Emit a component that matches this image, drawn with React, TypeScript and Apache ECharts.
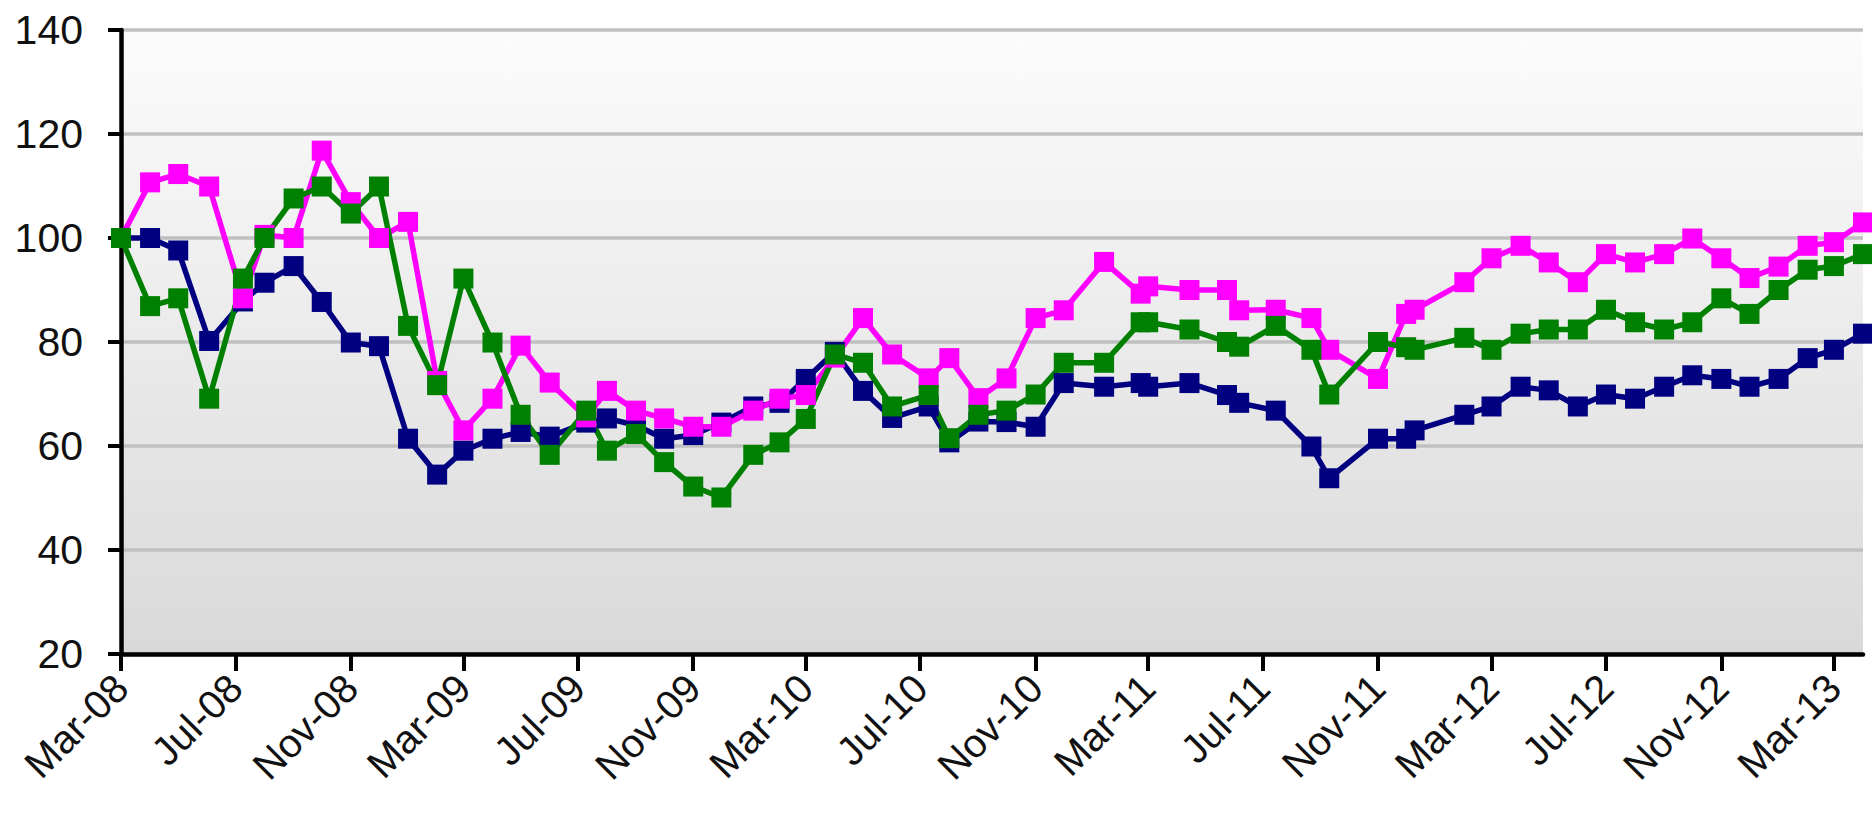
import React, { useEffect, useRef } from "react";
import * as echarts from "echarts";

const dates: string[] = [
  "2008-03-01", "2008-04-01", "2008-05-01", "2008-06-03", "2008-07-09", "2008-08-01",
  "2008-09-01", "2008-10-01", "2008-11-01", "2008-12-01", "2009-01-01", "2009-02-01",
  "2009-03-01", "2009-04-01", "2009-05-01", "2009-06-01", "2009-07-10", "2009-08-01",
  "2009-09-01", "2009-10-01", "2009-11-01", "2009-12-01", "2010-01-04", "2010-02-01",
  "2010-03-01", "2010-04-01", "2010-05-01", "2010-06-01", "2010-07-10", "2010-08-01",
  "2010-09-01", "2010-10-01", "2010-11-01", "2010-12-01", "2011-01-13", "2011-02-21",
  "2011-03-01", "2011-04-14", "2011-05-24", "2011-06-06", "2011-07-15", "2011-08-22",
  "2011-09-10", "2011-11-01", "2011-12-01", "2011-12-10", "2012-02-01", "2012-03-01",
  "2012-04-01", "2012-05-01", "2012-06-01", "2012-07-01", "2012-08-01", "2012-09-01",
  "2012-10-01", "2012-11-01", "2012-12-01", "2013-01-01", "2013-02-01", "2013-03-01",
  "2013-04-01",
];

const navySeries: number[] = [
  100, 100, 97.6, 80.2, 87.8, 91.4, 94.6, 87.7, 79.9, 79.2, 61.4, 54.5,
  59.1, 61.4, 62.7, 61.8, 64.5, 65.3, 64.0, 61.4, 62.1, 64.5, 67.6, 68.3,
  72.9, 78.1, 70.6, 65.4, 67.6, 60.7, 64.7, 64.6, 63.7, 72.1, 71.4, 72.1,
  71.4, 72.1, 69.8, 68.3, 66.8, 59.9, 53.8, 61.4, 61.4, 63.0, 66.0, 67.6,
  71.4, 70.7, 67.6, 69.9, 69.1, 71.4, 73.6, 72.9, 71.4, 72.9, 76.9, 78.5,
  81.6,
];

const magentaSeries: number[] = [
  100, 110.7, 112.3, 109.9, 88.4, 100.6, 100, 116.8, 106.9, 100, 103.1, 72.5,
  63.0, 69.1, 79.3, 72.2, 65.5, 70.6, 66.8, 65.3, 63.7, 63.7, 66.8, 69.1,
  69.8, 77.0, 84.6, 77.6, 73.0, 76.9, 69.2, 73.0, 84.6, 86.1, 95.4, 89.3,
  90.7, 90.0, 90.0, 86.1, 86.2, 84.6, 78.5, 72.9, 85.4, 86.2, 91.5, 96.1,
  98.5, 95.3, 91.5, 96.9, 95.3, 96.9, 99.9, 96.1, 92.3, 94.5, 98.5, 99.2,
  103.0,
];

const greenSeries: number[] = [
  100, 86.9, 88.4, 69.1, 92.2, 100, 107.6, 109.9, 104.7, 109.9, 83.1, 71.7,
  92.2, 79.9, 66.0, 58.3, 66.8, 59.1, 62.3, 56.9, 52.2, 50.1, 58.3, 60.7,
  65.2, 77.6, 76.0, 67.6, 69.8, 61.5, 66.0, 66.8, 69.9, 76.0, 76.0, 83.8,
  83.8, 82.4, 80.0, 79.1, 83.1, 78.5, 69.9, 80.0, 79.0, 78.5, 80.8, 78.5,
  81.6, 82.4, 82.4, 86.2, 83.8, 82.4, 83.8, 88.4, 85.4, 90.0, 93.9, 94.6,
  96.9,
];

const tickDates: string[] = [
  "2008-03-01", "2008-07-01", "2008-11-01", "2009-03-01", "2009-07-01", "2009-11-01",
  "2010-03-01", "2010-07-01", "2010-11-01", "2011-03-01", "2011-07-01", "2011-11-01",
  "2012-03-01", "2012-07-01", "2012-11-01", "2013-03-01",
];

const monthNames = ["Jan", "Feb", "Mar", "Apr", "May", "Jun", "Jul", "Aug", "Sep", "Oct", "Nov", "Dec"];

const DAY = 86400000;
// x values are days since the first date
const dayOf = (s: string) => {
  const [y, m, d] = s.split("-").map(Number);
  return Math.round((Date.UTC(y, m - 1, d) - Date.UTC(2008, 2, 1)) / DAY);
};

const FONT = "'Liberation Sans', Arial, sans-serif";

export default function App() {
  const ref = useRef<HTMLDivElement>(null);
  useEffect(() => {
    if (!ref.current) return;
    const chart = echarts.init(ref.current, undefined, { renderer: "svg" });
    const tickDays = tickDates.map(dayOf);
    const mk = (name: string, color: string, vals: number[]) => ({
      name,
      type: "line",
      data: dates.map((d, i) => [dayOf(d), vals[i]]),
      symbol: "rect",
      symbolSize: 20,
      showAllSymbol: true,
      clip: false,
      lineStyle: { color, width: 5.5 },
      itemStyle: { color },
      emphasis: { disabled: true },
    });
    chart.setOption({
      animation: false,
      backgroundColor: "#ffffff",
      grid: {
        left: 121,
        right: 9,
        top: 30,
        bottom: 163,
        show: true,
        borderWidth: 0,
        backgroundColor: new echarts.graphic.LinearGradient(0, 0, 0, 1, [
          { offset: 0, color: "#fcfcfc" },
          { offset: 1, color: "#d9d9d9" },
        ]),
      },
      xAxis: {
        type: "value",
        min: dayOf(dates[0]),
        max: dayOf(dates[dates.length - 1]),
        axisLine: { show: true, onZero: false, lineStyle: { color: "#000", width: 4.5 } },
        axisTick: { show: true, customValues: tickDays, length: 17, lineStyle: { color: "#000", width: 4 } },
        axisLabel: {
          customValues: tickDays,
          rotate: 45,
          margin: 27,
          fontSize: 40,
          fontFamily: FONT,
          color: "#111",
          hideOverlap: false,
          formatter: (v: number) => {
            const dt = new Date(Date.UTC(2008, 2, 1) + Math.round(v) * DAY);
            const yy = String(dt.getUTCFullYear() % 100).padStart(2, "0");
            return monthNames[dt.getUTCMonth()] + "-" + yy;
          },
        },
        splitLine: { show: false },
      },
      yAxis: {
        type: "value",
        min: 20,
        max: 140,
        interval: 20,
        axisLine: { show: true, lineStyle: { color: "#000", width: 4.5 } },
        axisTick: { show: true, length: 13, lineStyle: { color: "#000", width: 4 } },
        axisLabel: { margin: 38, fontSize: 41, fontFamily: FONT, color: "#111" },
        splitLine: { show: true, lineStyle: { color: "#c0c0c0", width: 3.5 } },
      },
      series: [
        mk("Navy", "#000080", navySeries),
        mk("Magenta", "#ff00ff", magentaSeries),
        mk("Green", "#008000", greenSeries),
      ],
    });
    return () => chart.dispose();
  }, []);
  return (
    <div
      ref={ref}
      style={{ position: "fixed", left: 0, top: 0, width: 1872, height: 817, background: "#fff" }}
    />
  );
}
